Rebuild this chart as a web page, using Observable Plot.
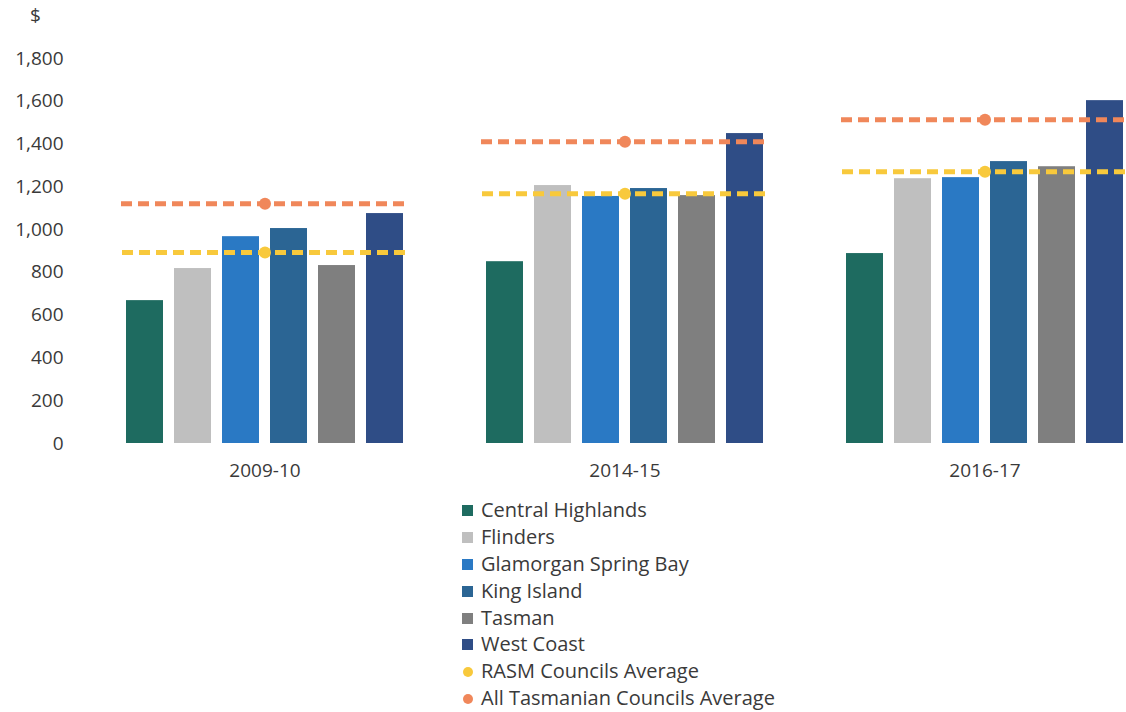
<!DOCTYPE html>
<html>
<head>
<meta charset="utf-8">
<script src="https://cdn.jsdelivr.net/npm/d3@7"></script>
<script src="https://cdn.jsdelivr.net/npm/@observablehq/plot@0.6"></script>
<style>
  html, body { margin: 0; padding: 0; background: #fff; }
  #wrap { position: relative; width: 1126px; }
  #chart svg { display: block; overflow: hidden; }
  #ylabel { position: absolute; left: 30px; top: 2px; font-family: "Open Sans", sans-serif; font-size: 19px; color: #3a3a3a; }
  #legend { margin-left: 462px; margin-top: 5px; font-family: "Open Sans", sans-serif; font-size: 20px; color: #3a3a3a; }
  #legend .row { height: 26.9px; line-height: 26.9px; display: flex; align-items: center; white-space: nowrap; }
  #legend .sw { width: 11px; height: 11px; margin-right: 8px; flex: none; }
  #legend .dot { width: 10px; height: 10px; border-radius: 50%; margin-left: 1px; margin-right: 8px; flex: none; }
</style>
</head>
<body>
<div id="wrap">
  <div id="chart"></div>
  <div id="ylabel">$</div>
</div>
<div id="legend"></div>
<script>
// ---- data ----
const years = ["2009-10", "2014-15", "2016-17"];
const councils = ["Central Highlands", "Flinders", "Glamorgan Spring Bay", "King Island", "Tasman", "West Coast"];
const centralHighlands = [668, 850, 888];
const flinders = [818, 1206, 1238];
const glamorganSpringBay = [967, 1155, 1243];
const kingIsland = [1005, 1192, 1318];
const tasman = [832, 1159, 1294];
const westCoast = [1075, 1449, 1603];
const rasmAverage = [893, 1168, 1271];
const allTasAverage = [1121, 1411, 1514];
const yTicks = [0, 200, 400, 600, 800, 1000, 1200, 1400, 1600, 1800];

const councilColors = ["#1e6b60", "#bfbfbf", "#2a79c4", "#2b6594", "#7f7f7f", "#2f4d86"];
const rasmColor = "#f8c93c";
const allTasColor = "#f0875a";

const seriesValues = [centralHighlands, flinders, glamorganSpringBay, kingIsland, tasman, westCoast];
const bars = years.flatMap((yr, i) => councils.map((c, j) => ({year: yr, council: c, value: seriesValues[j][i]})));
const rasm = years.map((yr, i) => ({year: yr, value: rasmAverage[i]}));
const allTas = years.map((yr, i) => ({year: yr, value: allTasAverage[i]}));

const chart = Plot.plot({
  width: 1126,
  height: 492,
  marginLeft: 124,
  marginRight: 1,
  marginTop: 58,
  marginBottom: 49,
  style: {fontFamily: "Open Sans, sans-serif", fontSize: "19px", color: "#3a3a3a", background: "#fff"},
  fx: {domain: years, paddingInner: 0.224, paddingOuter: 0, label: null, tickSize: 0, tickPadding: 20},
  x: {domain: councils, paddingInner: 0.22, paddingOuter: 0, axis: null},
  y: {domain: [0, 1800], ticks: yTicks, tickFormat: d3.format(","), tickSize: 0, tickPadding: 62, label: null},
  color: {domain: councils, range: councilColors},
  marks: [
    Plot.barY(bars, {fx: "year", x: "council", y: "value", fill: "council"}),
    Plot.ruleY(allTas, {fx: "year", y: "value", stroke: allTasColor, strokeWidth: 5, strokeDasharray: "11,6", insetLeft: -4, insetRight: -6}),
    Plot.dot(allTas, {fx: "year", y: "value", fill: allTasColor, r: 6, frameAnchor: "middle"}),
    Plot.ruleY(rasm, {fx: "year", y: "value", stroke: rasmColor, strokeWidth: 5, strokeDasharray: "11,6", insetLeft: -3, insetRight: -6}),
    Plot.dot(rasm, {fx: "year", y: "value", fill: rasmColor, r: 6, frameAnchor: "middle"})
  ]
});
document.getElementById("chart").appendChild(chart);

// ---- legend ----
const legend = document.getElementById("legend");
councils.forEach((c, j) => {
  const row = document.createElement("div");
  row.className = "row";
  row.innerHTML = `<span class="sw" style="background:${councilColors[j]}"></span><span>${c}</span>`;
  legend.appendChild(row);
});
[["RASM Councils Average", rasmColor], ["All Tasmanian Councils Average", allTasColor]].forEach(([name, col]) => {
  const row = document.createElement("div");
  row.className = "row";
  row.innerHTML = `<span class="dot" style="background:${col}"></span><span>${name}</span>`;
  legend.appendChild(row);
});
</script>
</body>
</html>
